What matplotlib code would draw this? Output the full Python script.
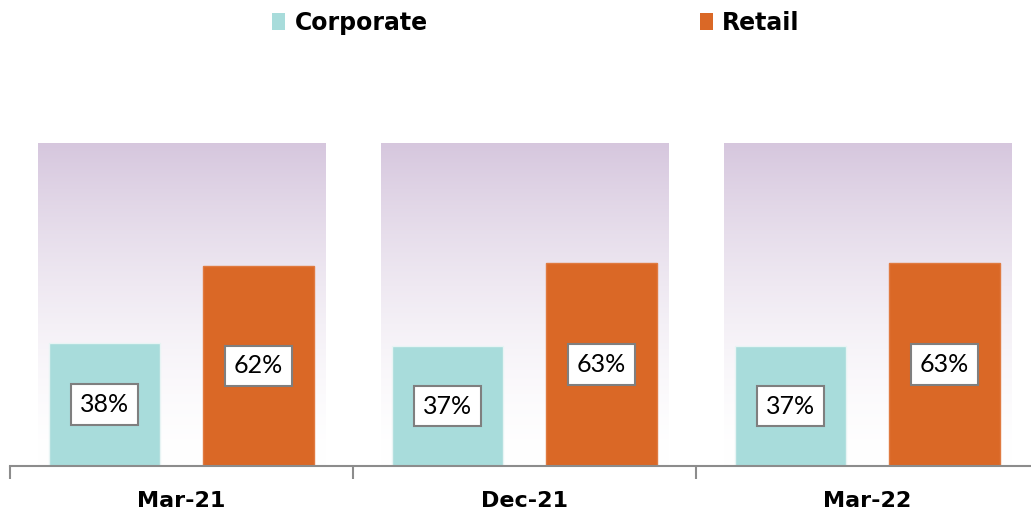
import numpy as np
import matplotlib.pyplot as plt
from matplotlib.patches import Patch

periods = ["Mar-21", "Dec-21", "Mar-22"]
corporate = [38, 37, 37]
retail = [62, 63, 63]

teal = "#a8dcdb"
orange = "#da6826"

fig = plt.figure(figsize=(10.31, 5.15), dpi=100)
W, H = 1031, 515
ax = fig.add_axes([10 / W, (H - 466) / H, 1029 / W, 323 / H])

x = np.arange(len(periods))
off = 0.224
bw = 0.324
bgw = 0.837

# gradient backdrop for each period (purple top fading to white)
grad = np.linspace(0, 1, 256).reshape(-1, 1)
top = np.array([0.84, 0.78, 0.87])
bottom = np.array([1.0, 1.0, 1.0])
img = bottom + (top - bottom) * grad ** 1.6
img = img[:, None, :]
for xi in x:
    ax.imshow(img, extent=[xi - bgw / 2, xi + bgw / 2, 0, 100], origin="lower",
              aspect="auto", zorder=0, interpolation="bilinear")

ax.bar(x - off, corporate, bw, color=teal, edgecolor="#e8f4f4", linewidth=1, zorder=2)
ax.bar(x + off, retail, bw, color=orange, edgecolor="#e07a40", linewidth=1, zorder=2)

box = dict(boxstyle="square,pad=0.35", facecolor="white", edgecolor="#7f7f7f", linewidth=1.5)
for xi, c, r in zip(x, corporate, retail):
    ax.text(xi - off, c / 2, f"{c}%", ha="center", va="center", fontsize=18,
            family="Lato", bbox=box, zorder=3)
    ax.text(xi + off, r / 2, f"{r}%", ha="center", va="center", fontsize=18,
            family="Lato", bbox=box, zorder=3)

ax.set_xlim(-0.5, 2.5)
ax.set_ylim(0, 100)
for s in ["top", "left", "right"]:
    ax.spines[s].set_visible(False)
ax.spines["bottom"].set_color("#8c8c8c")
ax.spines["bottom"].set_linewidth(1.5)
ax.set_yticks([])
ax.set_xticks(x)
ax.set_xticklabels(periods, fontsize=16, fontweight="bold", family="DejaVu Sans")
ax.tick_params(axis="x", which="major", length=0, pad=18)
ax.set_xticks([-0.5, 0.5, 1.5, 2.5], minor=True)
ax.tick_params(axis="x", which="minor", length=9, width=1.5, color="#8c8c8c")

handles = [Patch(facecolor=teal, label="Corporate"), Patch(facecolor=orange, label="Retail")]
fig.legend(handles=handles, loc="upper center", bbox_to_anchor=(536 / W, 1.02), ncol=2,
           frameon=False, prop=dict(size=17, weight="bold", family="DejaVu Sans"),
           handlelength=0.55, handleheight=0.7, handletextpad=0.4, columnspacing=11.5)

fig.savefig("out.png", dpi=100)
